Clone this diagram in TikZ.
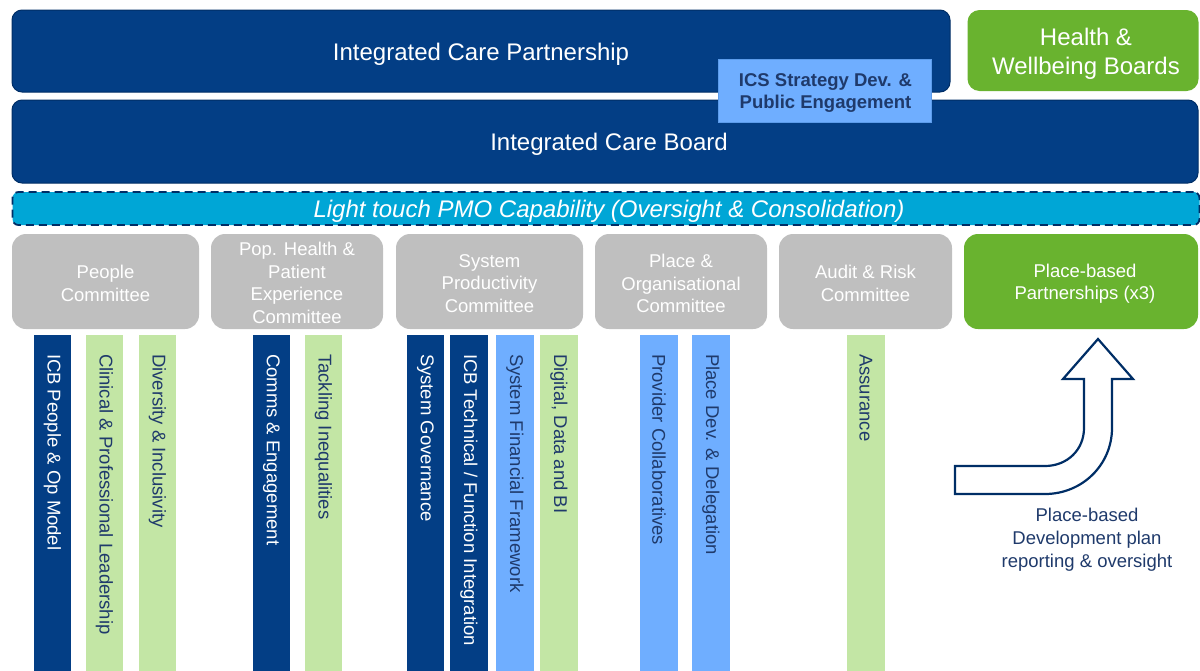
\documentclass[tikz,border=0pt]{standalone}
\usepackage{fontspec}
\setmainfont{Liberation Sans}
\definecolor{navy}{HTML}{033E85}
\definecolor{navyline}{HTML}{002E66}
\definecolor{grn}{HTML}{69B32F}
\definecolor{lgrn}{HTML}{C3E6A5}
\definecolor{lblue}{HTML}{6FAEFF}
\definecolor{lblueline}{HTML}{5C9CEB}
\definecolor{cyanbar}{HTML}{00A6D6}
\definecolor{gry}{HTML}{BFBFBF}
\definecolor{darktext}{HTML}{1F3A6B}
\begin{document}
\begin{tikzpicture}[x=1pt,y=-1pt,
  bigbox/.style={draw=navyline, fill=navy, line width=1pt, rounded corners=10pt, inner sep=0pt},
  greenbox/.style={fill=grn, rounded corners=12pt, inner sep=0pt},
  icsbox/.style={draw=lblueline, fill=lblue, line width=0.8pt, inner sep=0pt},
  pmobar/.style={draw=navyline, fill=cyanbar, dashed, dash pattern=on 8pt off 5pt, line width=1.8pt, rounded corners=6pt, inner sep=0pt},
  committee/.style={fill=gry, rounded corners=14pt, inner sep=0pt, minimum height=95pt},
  bigtext/.style={inner sep=0pt, text=white, align=center, font=\fontsize{24}{29}\selectfont},
  midtext/.style={inner sep=0pt, text=white, align=center, font=\fontsize{18.5}{22.5}\selectfont},
  icstext/.style={inner sep=0pt, text=darktext, align=center, font=\bfseries\fontsize{18.5}{22}\selectfont},
  barbox/.style={inner sep=0pt, minimum width=37.5pt, minimum height=337pt},
  darkbar/.style={barbox, fill=navy},
  greenbar/.style={barbox, fill=lgrn},
  bluebar/.style={barbox, fill=lblue},
  barlabel/.style={rotate=-90, anchor=west, inner sep=0pt, font=\fontsize{18.5}{22.5}\selectfont},
  arrowshape/.style={draw=navyline, fill=white, line width=2.2pt, line join=miter},
  notetext/.style={text=darktext, align=center, inner sep=0pt, font=\fontsize{18.5}{23}\selectfont}
]
\useasboundingbox (0,0) rectangle (1200,670);

% top boxes
\node[bigbox, minimum width=938pt, minimum height=82pt] (icp) at (481,51) {};
\node[bigtext] (icpt) at ([yshift=-3pt]icp.center) {Integrated Care Partnership};
\node[greenbox, minimum width=231pt, minimum height=81pt] (hwb) at (1083,50.5) {};
\node[bigtext] (hwbt) at ([xshift=3pt,yshift=-3pt]hwb.center) {Health \&\\Wellbeing Boards};
\node[bigbox, minimum width=1186pt, minimum height=83pt] (icb) at (605,141.5) {};
\node[bigtext] (icbt) at ([xshift=4pt,yshift=-3pt]icb.center) {Integrated Care Board};
\node[icsbox, minimum width=213pt, minimum height=63pt] (ics) at (824.5,90.5) {};
\node[icstext] (icst) at ([xshift=1pt,yshift=-2pt]ics.center) {ICS Strategy Dev. \&\\Public Engagement};

% PMO bar
\node[pmobar, minimum width=1187pt, minimum height=33pt] (pmo) at (606,208.5) {};
\node[bigtext, font=\itshape\fontsize{24}{29}\selectfont] (pmot) at ([xshift=3pt,yshift=-3pt]pmo.center) {Light touch PMO Capability (Oversight \& Consolidation)};

% committees
\node[committee, minimum width=187pt] (c1) at (105.5,281.5) {};
\node[committee, minimum width=172pt] (c2) at (297,281.5) {};
\node[committee, minimum width=187pt] (c3) at (489.5,281.5) {};
\node[committee, minimum width=172pt] (c4) at (681,281.5) {};
\node[committee, minimum width=173pt] (c5) at (865.5,281.5) {};
\node[greenbox, minimum width=234pt, minimum height=95pt, rounded corners=14pt] (pbp) at (1081,281.5) {};
\node[midtext] (c1t) at ([yshift=-2pt]c1.center) {People\\Committee};
\node[midtext] (c2t) at ([yshift=-1.5pt]c2.center) {Pop. Health \&\\Patient\\Experience\\Committee};
\node[midtext] (c3t) at ([yshift=-2pt]c3.center) {System\\Productivity\\Committee};
\node[midtext] (c4t) at ([yshift=-2pt]c4.center) {Place \&\\Organisational\\Committee};
\node[midtext] (c5t) at ([yshift=-2pt]c5.center) {Audit \& Risk\\Committee};
\node[midtext] (pbpt) at ([xshift=4pt,yshift=-2pt]pbp.center) {Place-based\\Partnerships (x3)};

% vertical bars
\node[darkbar]  (b1)  at (52.5,503.5) {};
\node[greenbar] (b2)  at (104.5,503.5) {};
\node[greenbar] (b3)  at (157.5,503.5) {};
\node[darkbar]  (b4)  at (271.5,503.5) {};
\node[greenbar] (b5)  at (323.5,503.5) {};
\node[darkbar]  (b6)  at (425.5,503.5) {};
\node[darkbar]  (b7)  at (469,503.5) {};
\node[bluebar]  (b8)  at (515,503.5) {};
\node[greenbar] (b9)  at (559,503.5) {};
\node[bluebar]  (b10) at (659,503.5) {};
\node[bluebar]  (b11) at (711,503.5) {};
\node[greenbar] (b12) at (866,503.5) {};

\node[barlabel, text=white]    (l1)  at ([yshift=-19pt]b1.north)  {ICB People \& Op Model};
\node[barlabel, text=darktext] (l2)  at ([yshift=-19pt]b2.north)  {Clinical \& Professional Leadership};
\node[barlabel, text=darktext] (l3)  at ([yshift=-19pt]b3.north)  {Diversity \& Inclusivity};
\node[barlabel, text=white]    (l4)  at ([yshift=-19pt]b4.north)  {Comms \& Engagement};
\node[barlabel, text=darktext] (l5)  at ([yshift=-19pt]b5.north)  {Tackling Inequalities};
\node[barlabel, text=white]    (l6)  at ([yshift=-19pt]b6.north)  {System Governance};
\node[barlabel, text=white]    (l7)  at ([yshift=-19pt]b7.north)  {ICB Technical / Function Integration};
\node[barlabel, text=darktext] (l8)  at ([yshift=-19pt]b8.north)  {System Financial Framework};
\node[barlabel, text=darktext] (l9)  at ([yshift=-19pt]b9.north)  {Digital, Data and BI};
\node[barlabel, text=darktext] (l10) at ([yshift=-19pt]b10.north) {Provider Collaboratives};
\node[barlabel, text=darktext] (l11) at ([yshift=-19pt]b11.north) {Place Dev. \& Delegation};
\node[barlabel, text=darktext] (l12) at ([yshift=-19pt]b12.north) {Assurance};

% bent arrow
\draw[arrowshape] (955,466) -- (1045,466)
  .. controls (1067,466) and (1084,450) .. (1084,428)
  -- (1084,379) -- (1063,379) -- (1098,339) -- (1133,379) -- (1112,379)
  -- (1112,428)
  .. controls (1112,465) and (1082,494) .. (1045,494)
  -- (955,494) -- cycle;

\node[notetext] (note) at (1087,540) {Place-based\\Development plan\\reporting \& oversight};
\end{tikzpicture}
\end{document}
